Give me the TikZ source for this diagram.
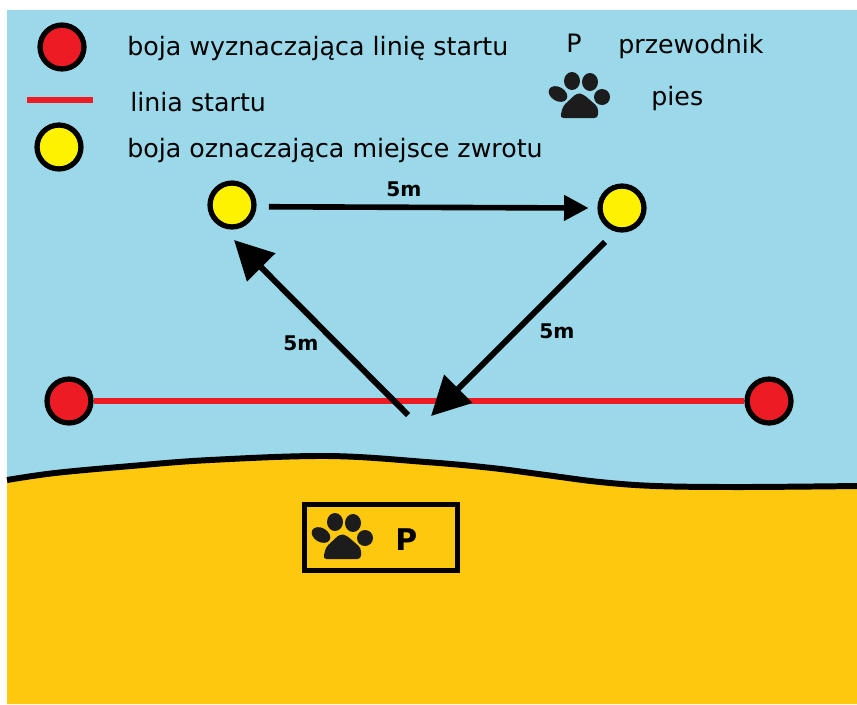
\documentclass[tikz,border=0pt]{standalone}
\usepackage{fontspec}
\usepackage{tikz}
\usetikzlibrary{arrows.meta}
\setmainfont{DejaVu Sans}
\definecolor{water}{RGB}{155,217,234}
\definecolor{sand}{RGB}{254,200,14}
\definecolor{buoyred}{RGB}{237,28,36}
\definecolor{buoyyellow}{RGB}{255,242,0}
\definecolor{pawblack}{RGB}{28,28,28}
\newcommand{\shoreline}{plot [smooth,tension=0.6] coordinates {(7,480) (55,473) (131,466) (210,460) (328,456) (426,462) (492,468) (546,475) (600,482) (656,486) (740,487) (857,486)}}
\tikzset{
  redbuoy/.style={circle,draw=black,line width=3pt,fill=buoyred,inner sep=0pt,minimum size=25pt},
  yellowbuoy/.style={circle,draw=black,line width=3pt,fill=buoyyellow,inner sep=0pt,minimum size=25pt},
  legendtext/.style={inner sep=0pt,anchor=base west,font=\fontsize{14.4}{16}\selectfont},
  lengthtext/.style={inner sep=0pt,anchor=base west,font=\fontsize{11.5}{14}\selectfont\bfseries},
  bigarrow/.style={line width=3.4pt,-{Triangle[length=22pt,width=22pt]}},
  smallarrow/.style={line width=3.2pt,-{Triangle[length=14pt,width=14pt]}},
  paw/.pic={
    \fill [pawblack] (-22,-1) ellipse [x radius=10,y radius=7,rotate=-30];
    \fill [pawblack] (-8,-14) ellipse [x radius=8,y radius=9];
    \fill [pawblack] (10,-13) ellipse [x radius=8,y radius=9];
    \fill [pawblack] (22,2) ellipse [x radius=8,y radius=8];
    \fill [pawblack,rounded corners=2pt] (-20,23) -- (-17,11) -- (-3,-2) -- (3,-1) -- (18,12) -- (18,23) -- cycle;
  }
}
\begin{document}
\begin{tikzpicture}[x=0.02cm,y=-0.02cm]
\useasboundingbox (0,0) rectangle (857,704);
\fill [water] (7,10) rectangle (857,490);
\fill [sand] \shoreline -- (857,704) -- (7,704) -- cycle;
\draw [line width=3.4pt] \shoreline;
% legend
\node [redbuoy] (legendred) at (62,47) {};
\draw [buoyred,line width=3.8pt] (27,100) -- (93,100);
\node [yellowbuoy] (legendyellow) at (59,147) {};
\node [legendtext] (textred) at (127,55) {boja wyznaczająca linię startu};
\node [legendtext] (textline) at (130,111) {linia startu};
\node [legendtext] (textyellow) at (127,157) {boja oznaczająca miejsce zwrotu};
\node [legendtext] (textp) at (566,52) {P};
\node [legendtext] (textguide) at (618,53) {przewodnik};
\node [legendtext] (textdog) at (651,105) {pies};
\pic at (580,95) {paw};
% course
\node [yellowbuoy] (turnleft) at (232,205) {};
\node [yellowbuoy] (turnright) at (622,208) {};
\node [redbuoy] (startleft) at (69,401) {};
\node [redbuoy] (startright) at (769,401) {};
\coordinate (tailright) at (605,242);
\coordinate (tipback) at (431,416);
\coordinate (tailstart) at (408,415);
\coordinate (tipleft) at (234,240);
\draw [buoyred,line width=3.4pt] (startleft) -- (startright);
\draw [smallarrow] ([xshift=7pt,yshift=-1pt]turnleft.east) -- ([xshift=-5pt]turnright.west);
\draw [bigarrow] (tailright) -- (tipback);
\draw [bigarrow] (tailstart) -- (tipleft);
\node [lengthtext] (lengthtop) at (386,196) {5m};
\node [lengthtext] (lengthright) at (539,338) {5m};
\node [lengthtext] (lengthleft) at (283,350) {5m};
% start box
\node [draw,line width=3pt,minimum width=87pt,minimum height=37.5pt,inner sep=0pt] (startbox) at (381,537.5) {};
\pic at (343,536) {paw};
\node [legendtext,font=\fontsize{17}{20}\selectfont\bfseries] (boxp) at (395,550) {P};
\end{tikzpicture}
\end{document}
